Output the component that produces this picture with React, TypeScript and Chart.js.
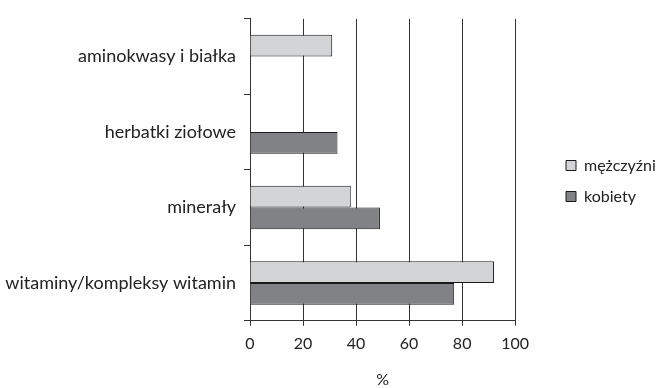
import React, { useEffect, useRef } from "react";
import { Chart, registerables } from "chart.js";

Chart.register(...registerables);

const categories = [
  "aminokwasy i białka",
  "herbatki ziołowe",
  "minerały",
  "witaminy/kompleksy witamin",
];
const men = [31, null, 38, 92];
const women = [null, 33, 49, 77];
const seriesNames = ["mężczyźni", "kobiety"];
const xTicks = [0, 20, 40, 60, 80, 100];
const xTitle = "%";

const legendShift = {
  id: "legendShift",
  afterLayout(chart: any) {
    const l = chart.legend;
    if (!l) return;
    const pad = l.options.labels.padding;
    const dx = 566 - (l.left + pad);
    const dy = -20;
    l.left += dx;
    l.right += dx;
    l.top += dy;
    l.bottom += dy;
  },
};

export default function App() {
  const ref = useRef<HTMLCanvasElement | null>(null);
  useEffect(() => {
    if (!ref.current) return;
    const fam = "Lato, 'Open Sans', sans-serif";
    const chart = new Chart(ref.current, {
      type: "bar",
      data: {
        labels: categories,
        datasets: [
          {
            label: seriesNames[0],
            data: men as any,
            backgroundColor: "#d3d4d6",
            borderColor: "#1a1a1a",
            borderWidth: 1,
            categoryPercentage: 0.575,
            barPercentage: 1,
          },
          {
            label: seriesNames[1],
            data: women as any,
            backgroundColor: "#808285",
            borderColor: "#1a1a1a",
            borderWidth: 1,
            categoryPercentage: 0.575,
            barPercentage: 1,
          },
        ],
      },
      plugins: [legendShift],
      options: {
        indexAxis: "y",
        animation: false,
        responsive: false,
        devicePixelRatio: 1,
        layout: { padding: { top: 14, left: 0, right: 31, bottom: 0 } },
        plugins: {
          tooltip: { enabled: false },
          legend: {
            position: "right",
            align: "center",
            labels: {
              font: { family: fam, size: 16 },
              color: "#222",
              boxWidth: 10,
              boxHeight: 10,
              padding: 15,
            },
          },
        },
        scales: {
          x: {
            min: 0,
            max: 100,
            afterBuildTicks: (scale: any) => {
              scale.ticks = xTicks.map((v) => ({ value: v }));
            },
            grid: {
              color: "#333",
              lineWidth: 1,
              tickLength: 5,
              drawTicks: true,
            },
            border: { color: "#333", width: 1 },
            ticks: { font: { family: fam, size: 16 }, color: "#222", padding: 8 },
            title: {
              display: true,
              text: xTitle,
              font: { family: fam, size: 16, lineHeight: 1 },
              color: "#222",
              padding: { top: 11, bottom: 0 },
            },
          },
          y: {
            offset: true,
            afterFit: (scale: any) => {
              scale.width = 250;
            },
            grid: {
              offset: true,
              drawOnChartArea: false,
              drawTicks: true,
              tickLength: 6,
              color: "#333",
            },
            border: { color: "#333", width: 1 },
            ticks: { font: { family: fam, size: 18 }, color: "#222", padding: 8 },
          },
        },
      },
    });
    return () => chart.destroy();
  }, []);
  return (
    <div style={{ position: "fixed", left: 0, top: 0, width: 661, height: 388 }}>
      <canvas ref={ref} width={661} height={388} />
    </div>
  );
}
